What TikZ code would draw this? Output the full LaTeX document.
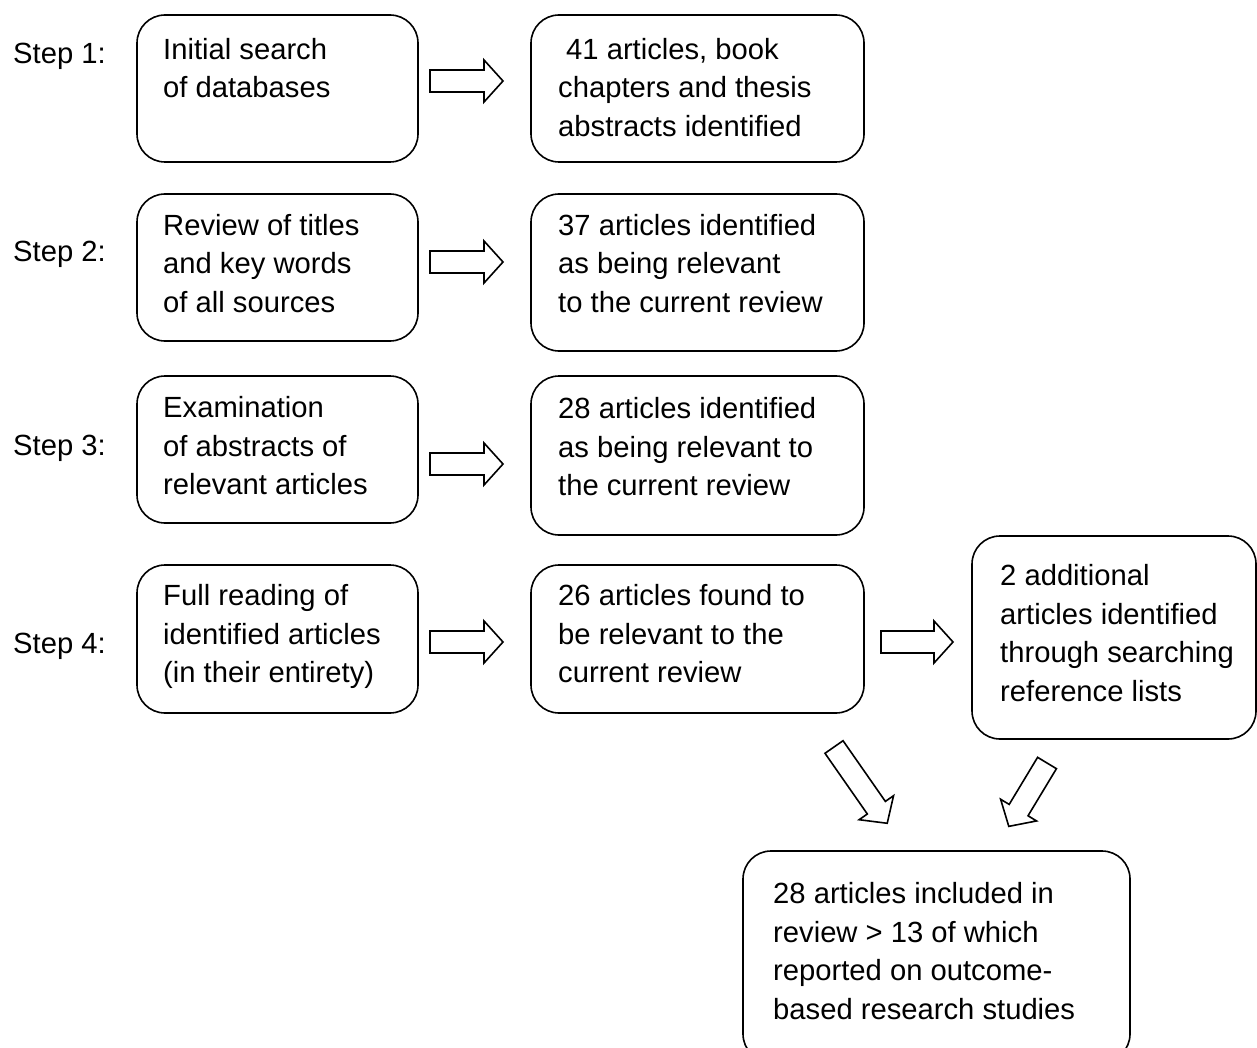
\documentclass[tikz,border=0pt]{standalone}
\usepackage{fontspec}
\setmainfont{Liberation Sans}
\newcommand{\firstln}{\rule{0pt}{22pt}}
\begin{document}
\begin{tikzpicture}[x=1pt,y=-1pt,
  box/.style={draw=black,line width=1.6pt,rounded corners=28pt},
  lbl/.style={anchor=base west,inner sep=0pt,font={\fontsize{29.2}{38.8}\selectfont}},
  txt/.style={anchor=north west,align=left,inner sep=0pt,font={\fontsize{29.2}{38.8}\selectfont}},
  arrowline/.style={draw=black,line width=1.6pt,fill=white,line join=miter},
  pics/barrow/.style={code={\draw[arrowline] (0,-11) -- (#1-19,-11) -- (#1-19,-21) -- (#1,0) -- (#1-19,21) -- (#1-19,11) -- (0,11) -- cycle;}}]
\useasboundingbox (0,0) rectangle (1257,1048);
\clip (0,0) rectangle (1257,1048);
\fill[white] (0,0) rectangle (1257,1048);
% step labels
\node[lbl] (s1) at (13,64) {Step 1:};
\node[lbl] (s2) at (13,262) {Step 2:};
\node[lbl] (s3) at (13,455) {Step 3:};
\node[lbl] (s4) at (13,653) {Step 4:};
% left boxes
\draw[box] (137,15) rectangle (418,162) coordinate (l1);
\draw[box] (137,194) rectangle (418,341) coordinate (l2);
\draw[box] (137,376) rectangle (418,523) coordinate (l3);
\draw[box] (137,565) rectangle (418,713) coordinate (l4);
\node[txt] (t1) at (163,37) {\firstln Initial search\\of databases};
\node[txt] (t2) at (163,213) {\firstln Review of titles\\and key words\\of all sources};
\node[txt] (t3) at (163,395) {\firstln Examination\\of abstracts of\\relevant articles};
\node[txt] (t4) at (163,583) {\firstln Full reading of\\identified articles\\(in their entirety)};
% right boxes
\draw[box] (531,15) rectangle (864,162) coordinate (r1);
\draw[box] (531,194) rectangle (864,351) coordinate (r2);
\draw[box] (531,376) rectangle (864,535) coordinate (r3);
\draw[box] (531,565) rectangle (864,713) coordinate (r4);
\node[txt] (u1) at (558,37) {\firstln\hspace*{8pt}41 articles, book\\chapters and thesis\\abstracts identified};
\node[txt] (u2) at (558,213) {\firstln 37 articles identified\\as being relevant\\to the current review};
\node[txt] (u3) at (558,396) {\firstln 28 articles identified\\as being relevant to\\the current review};
\node[txt] (u4) at (558,583) {\firstln 26 articles found to\\be relevant to the\\current review};
% extra box
\draw[box] (972,536) rectangle (1256,739) coordinate (x1);
\node[txt] (v1) at (1000,563) {\firstln 2 additional\\articles identified\\through searching\\reference lists};
% final box
\draw[box] (743,851) rectangle (1130,1062) coordinate (f1);
\node[txt] (w1) at (773,881) {\firstln 28 articles included in\\review > 13 of which\\reported on outcome-\\based research studies};
% block arrows
\pic (a1) at (430,81) {barrow=73};
\pic (a2) at (430,262) {barrow=73};
\pic (a3) at (430,464) {barrow=73};
\pic (a4) at (430,642) {barrow=73};
\pic (a5) at (881,642) {barrow=72};
\pic[rotate=-55.1] (a6) at (834,747) {barrow=93};
\pic[rotate=-121.1] (a7) at (1047,763) {barrow=74};
\end{tikzpicture}
\end{document}
